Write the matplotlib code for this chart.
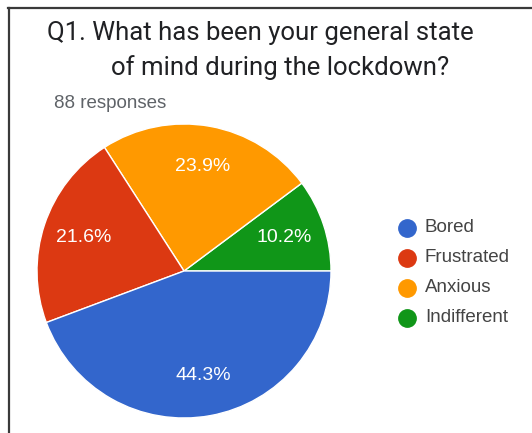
import matplotlib
matplotlib.use('Agg')
import matplotlib.pyplot as plt
from matplotlib.lines import Line2D

# survey answers (drawn counterclockwise from 3 o'clock)
labels = ['Indifferent', 'Anxious', 'Frustrated', 'Bored']
shares = [10.2, 23.9, 21.6, 44.3]
colors = ['#109618', '#ff9900', '#dc3912', '#3366cc']
legend_order = ['Bored', 'Frustrated', 'Anxious', 'Indifferent']

title_1 = 'Q1. What has been your general state'
title_2 = 'of mind during the lockdown?'
subtitle = '88 responses'

W, H = 532, 433
fig = plt.figure(figsize=(W / 100, H / 100), dpi=100)
plt.rcParams['font.family'] = ['Roboto', 'DejaVu Sans']
small = ['Liberation Sans', 'DejaVu Sans']

def fx(px):
    return px / W

def fy(py):
    return 1 - py / H

# frame lines (screenshot border)
fig.add_artist(Line2D([fx(8), 1], [fy(8), fy(8)], color='#3a3a3a', lw=1.6))
fig.add_artist(Line2D([fx(9), fx(9)], [fy(8), 0], color='#3a3a3a', lw=1.6))

# titles
fig.text(fx(260), fy(33), title_1, ha='center', va='center', fontsize=18.5, color='#202124')
fig.text(fx(280), fy(68), title_2, ha='center', va='center', fontsize=18.5, color='#202124')
fig.text(fx(54), fy(103), subtitle, ha='left', va='center', fontsize=13.5,
         color='#5f6368', family=small)

# pie
cx, cy, r = 184, 271, 147
ax = fig.add_axes([fx(cx - r), fy(cy + r), (2 * r) / W, (2 * r) / H])
wedges, texts, autotexts = ax.pie(
    shares, colors=colors, startangle=0, counterclock=True,
    autopct='%.1f%%', pctdistance=0.72,
    wedgeprops=dict(edgecolor='white', linewidth=1),
    textprops=dict(color='white', fontsize=14, family=small))
ax.set_xlim(-1, 1)
ax.set_ylim(-1, 1)
ax.axis('off')

# legend
for i, name in enumerate(legend_order):
    c = colors[labels.index(name)]
    y = 228 + i * 30
    fig.text(fx(425), fy(y), name, ha='left', va='center', fontsize=13.5,
             color='#444444', family=small)
    fig.add_artist(Line2D([fx(407)], [fy(y)], marker='o', markersize=12.5,
                          markerfacecolor=c, markeredgecolor=c, linestyle='none'))

fig.savefig('out.png', dpi=100)
